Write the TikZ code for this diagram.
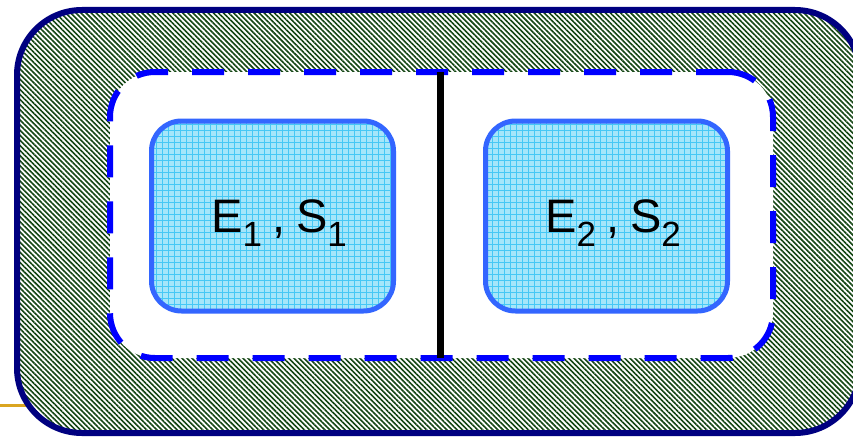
\documentclass[tikz,border=0pt]{standalone}
\usepackage{fontspec}
\setmainfont{Liberation Sans}
\usetikzlibrary{patterns.meta}
\definecolor{navyb}{RGB}{0,0,128}
\definecolor{hatchg}{RGB}{20,70,20}
\definecolor{dashb}{RGB}{0,0,255}
\definecolor{boxb}{RGB}{51,102,255}
\definecolor{cyanfill}{RGB}{165,230,250}
\definecolor{cyangrid}{RGB}{70,200,245}
\definecolor{gold}{RGB}{218,165,32}
\newcommand{\subd}[1]{\raisebox{-14pt}{\fontsize{35}{35}\selectfont #1}}
\tikzset{
  outerbox/.style={draw=navyb, line width=6pt, rounded corners=65pt, inner sep=0pt, outer sep=0pt,
    preaction={fill=white}, pattern={Lines[angle=-45,distance=3.6pt,line width=1.6pt]}, pattern color=hatchg},
  dashbox/.style={draw=dashb, line width=6pt, rounded corners=45pt, fill=white, inner sep=0pt, outer sep=0pt,
    dash pattern=on 32pt off 24pt},
  ebox/.style={draw=boxb, line width=5pt, rounded corners=30pt, inner sep=0pt, outer sep=0pt,
    minimum width=242pt, minimum height=190pt,
    preaction={fill=cyanfill}, pattern={Hatch[angle=0,distance=6pt,line width=0.8pt]}, pattern color=cyangrid},
  lbl/.style={anchor=base west, inner sep=0pt, font=\fontsize{47}{50}\selectfont},
  wall/.style={line width=7pt, black}
}
\begin{document}
\begin{tikzpicture}[x=1pt,y=-1pt]
\useasboundingbox (0,0) rectangle (853,436);
\coordinate (g1) at (0,405);
\coordinate (g2) at (30,405);
\draw[gold, line width=3pt] (g1) -- (g2);
\node[outerbox, minimum width=843pt, minimum height=423pt] (outer) at (438.5,221.5) {};
\node[dashbox, minimum width=663pt, minimum height=286pt] (sys) at (441.5,215) {};
\coordinate (wtop) at (440,72);
\coordinate (wbot) at (440,358);
\draw[wall] (wtop) -- (wbot);
\node[ebox] (b1) at (272.5,216) {};
\node[ebox] (b2) at (606.5,216) {};
\node[lbl] (t1) at (211,232) {E\subd{1}\hspace{10pt},\hspace{11pt}S\subd{1}};
\node[lbl] (t2) at (545,232) {E\subd{2}\hspace{10pt},\hspace{11pt}S\subd{2}};
\end{tikzpicture}
\end{document}
